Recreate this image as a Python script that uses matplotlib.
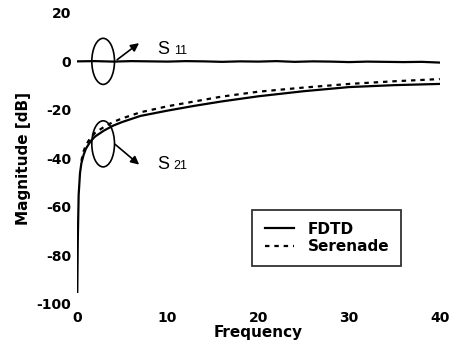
import numpy as np
import matplotlib.pyplot as plt
from matplotlib.patches import Ellipse

plt.rcParams['font.family'] = ['DejaVu Sans']
plt.rcParams['axes.unicode_minus'] = False

# S11 (reflection), nearly flat at 0 dB
s11_freq = [0, 2, 4, 6, 8, 10, 12, 14, 16, 18, 20, 22, 24, 26, 28, 30, 32, 34, 36, 38, 40]
s11_fdtd = [0, 0.1, -0.1, 0.1, 0, -0.1, 0.1, 0, -0.2, 0, -0.1, 0.1, -0.2, 0, -0.1, -0.3, -0.1, -0.2, -0.3, -0.2, -0.5]

# S21 (transmission)
s21_freq = [0.05, 0.1, 0.2, 0.35, 0.5, 0.75, 1, 1.5, 2, 3, 4, 5, 7, 10, 13, 16, 20, 25, 30, 35, 40]
s21_fdtd = [-95, -75, -55, -46, -42, -38.5, -36, -33, -31, -28.5, -26.5, -25, -22.5, -20.3,
            -18.3, -16.5, -14.4, -12.3, -10.6, -9.8, -9.3]
ser_freq = [0.5, 0.75, 1, 1.5, 2, 3, 4, 5, 7, 10, 13, 16, 20, 25, 30, 35, 40]
s21_serenade = [-41, -37, -34.5, -31.5, -29.5, -27, -25, -23.5, -21, -18.5, -16.5, -14.5,
                -12.5, -10.8, -9.3, -8.2, -7.3]

fig = plt.figure(figsize=(4.52, 3.47), dpi=100)
ax = fig.add_axes([0.170, 0.124, 0.803, 0.839])

ax.plot(s11_freq, s11_fdtd, color='black', lw=1.6)
fdtd_line, = ax.plot(s21_freq, s21_fdtd, color='black', lw=1.6, label='FDTD')
ser_line, = ax.plot(ser_freq, s21_serenade, color='black', lw=1.6,
                    linestyle=(0, (2, 2.2)), label='Serenade')

ax.set_xlim(0, 40)
ax.set_ylim(-100, 20)
ax.set_xticks([0, 10, 20, 30, 40])
ax.set_yticks([20, 0, -20, -40, -60, -80, -100])
for s in ax.spines.values():
    s.set_visible(False)
ax.tick_params(length=0, labelsize=10)
ax.tick_params(axis='y', pad=4)
ax.tick_params(axis='x', pad=5)
for lab in ax.get_xticklabels() + ax.get_yticklabels():
    lab.set_fontweight('bold')

ax.set_xlabel('Frequency', fontsize=11, fontweight='bold', labelpad=0)
ax.set_ylabel('Magnitude [dB]', fontsize=11, fontweight='bold', labelpad=4)

# ellipse markers with arrows pointing to the curve names
labels = [(0, (4.2, 0), (7.1, 8.2), 3.0, '11'), (-34, (4.0, -33.5), (7.1, -43.3), -44.3, '21')]
for yc, start, tip, ty, sub in labels:
    ax.add_patch(Ellipse((2.9, yc), 2.5, 19, fill=False, color='black', lw=1.2))
    ax.annotate('', xy=tip, xytext=start,
                arrowprops=dict(arrowstyle='-|>', color='black', lw=1.2,
                                mutation_scale=12))
    ax.text(8.9, ty, 'S', fontsize=13, va='baseline', family='Liberation Sans')
    ax.annotate(sub, xy=(8.9, ty), xytext=(11.5, 0), textcoords='offset points',
                fontsize=9, va='baseline', family='Liberation Sans')

leg = ax.legend(handles=[fdtd_line, ser_line], loc='center', bbox_to_anchor=(0.689, 0.227),
                fancybox=False, edgecolor='black', handlelength=1.9,
                prop={'weight': 'bold', 'size': 11}, borderpad=0.8,
                handletextpad=0.9, labelspacing=0.15, borderaxespad=0)
leg.get_frame().set_linewidth(1.3)

fig.savefig('out.png', dpi=100)
